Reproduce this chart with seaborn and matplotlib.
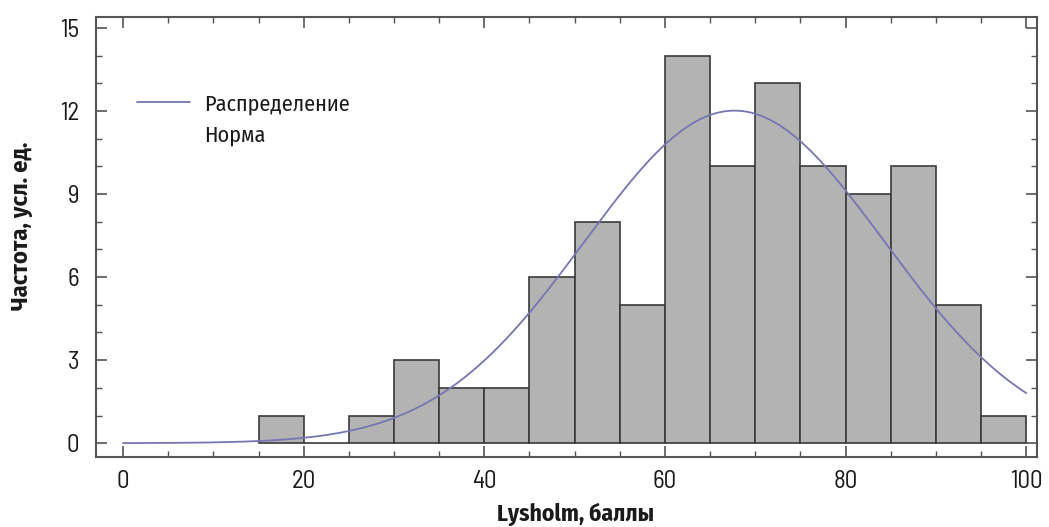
import numpy as np
import pandas as pd
import matplotlib
matplotlib.use("Agg")
import matplotlib.pyplot as plt
import seaborn as sns
from matplotlib.ticker import MultipleLocator
from matplotlib.lines import Line2D

# Data
bin_edges = [15, 20, 25, 30, 35, 40, 45, 50, 55, 60, 65, 70, 75, 80, 85, 90, 95, 100]
counts = [1, 0, 1, 3, 2, 2, 6, 8, 5, 14, 10, 13, 10, 9, 10, 5, 1]
norm_mean = 67.7
norm_sd = 16.6
curve_x = np.linspace(0, 100, 201)
legend_labels = ["Распределение", "Норма"]

sns.set_style("ticks")
plt.rcParams['font.family'] = ['Fira Sans Condensed', 'DejaVu Sans']
TICK_FONT = ['Barlow Semi Condensed', 'Fira Sans Condensed', 'DejaVu Sans']

fig = plt.figure(figsize=(10.49, 5.27), dpi=100)
ax = fig.add_axes([0.0915, 0.1328, 0.8971, 0.835])

centers = [(a + b) / 2 for a, b in zip(bin_edges[:-1], bin_edges[1:])]
df = pd.DataFrame({"x": centers, "w": counts})
sns.histplot(data=df, x="x", weights="w", bins=bin_edges, ax=ax,
             color="#b3b3b3", alpha=1, edgecolor="#3a3a3a", linewidth=1.2)

total = sum(counts)
bw = 5
curve_y = total * bw / (norm_sd * np.sqrt(2 * np.pi)) * np.exp(-(curve_x - norm_mean) ** 2 / (2 * norm_sd ** 2))
sns.lineplot(x=curve_x, y=curve_y, ax=ax, color="#7676b2", linewidth=1.3, legend=False)

ax.set_xlim(-3, 101.2)
ax.set_ylim(-0.5, 15.4)
ax.xaxis.set_major_locator(MultipleLocator(20))
ax.xaxis.set_minor_locator(MultipleLocator(5))
ax.yaxis.set_major_locator(MultipleLocator(3))
ax.yaxis.set_minor_locator(MultipleLocator(1))
ax.tick_params(which="both", direction="in", top=True, right=True, colors="#555555",
               labelcolor="#1a1a1a", labelsize=18)
ax.tick_params(which="major", length=8, width=1.2)
ax.tick_params(which="minor", length=4, width=1)
ax.tick_params(axis="y", which="both", pad=12)
ax.tick_params(axis="x", which="both", pad=9)
for lbl in ax.get_xticklabels() + ax.get_yticklabels():
    lbl.set_family(TICK_FONT)
for s in ax.spines.values():
    s.set_color("#555555")
    s.set_linewidth(1.5)

ax.set_xlabel("Lysholm, баллы", fontsize=17, fontweight="bold", color="#1a1a1a")
ax.set_ylabel("Частота, усл. ед.", fontsize=17.5, fontweight="bold", color="#1a1a1a")
ax.xaxis.set_label_coords(0.510, -0.103)
ax.yaxis.set_label_coords(-0.0665, 0.525)

handles = [Line2D([], [], color="#7676b2", linewidth=1.3),
           Line2D([], [], color="none")]
leg = ax.legend(handles, legend_labels, loc="upper left", bbox_to_anchor=(0.022, 0.872),
                frameon=False, fontsize=16, handlelength=2.4, handletextpad=0.62,
                labelspacing=0.45)
for t in leg.get_texts():
    t.set_color("#1a1a1a")

fig.savefig("out.png", dpi=100)
